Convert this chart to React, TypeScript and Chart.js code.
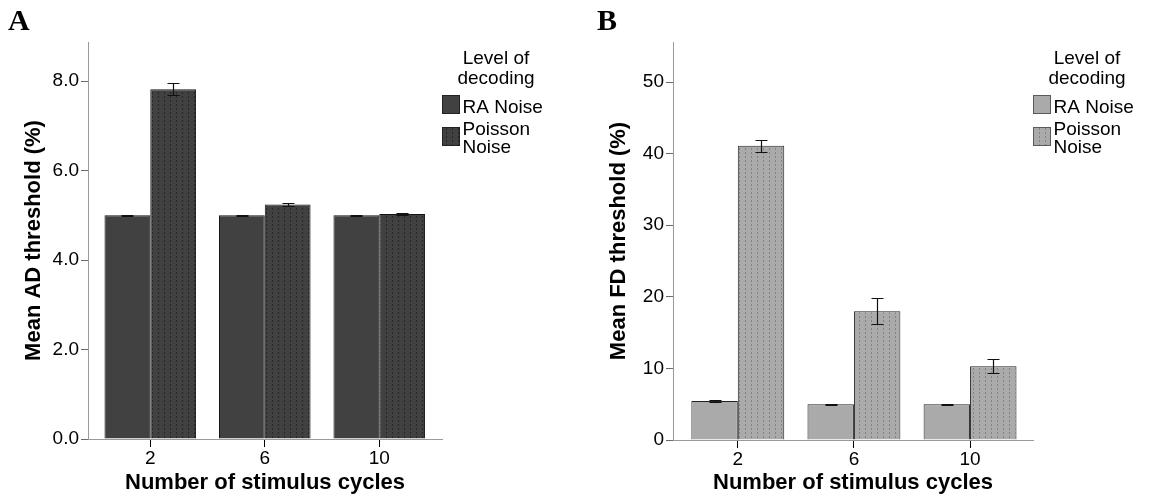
import React, { useEffect, useRef } from 'react';
import { Chart, registerables } from 'chart.js';
Chart.register(...registerables);

// ---------- data ----------
const categories = ['2', '6', '10'];
const seriesNames = ['RA Noise', 'Poisson Noise'];
const legendTitle = ['Level of', 'decoding'];
const xTitle = 'Number of stimulus cycles';

const adRA = [5.0, 5.0, 5.0];
const adRAErr = [0.012, 0.012, 0.012];
const adPoisson = [7.82, 5.24, 5.03];
const adPoissonErr = [0.13, 0.04, 0.025];
const adTicks = [0, 2, 4, 6, 8];

const fdRA = [5.45, 5.0, 5.0];
const fdRAErr = [0.08, 0.06, 0.06];
const fdPoisson = [41.1, 18.0, 10.3];
const fdPoissonErr = [0.85, 1.8, 1.0];
const fdTicks = [0, 10, 20, 30, 40, 50];

const FONT = "'Liberation Sans', Arial, Helvetica, sans-serif";

type Panel = {
  letter: string;
  yTitle: string;
  ra: number[];
  raErr: number[];
  poi: number[];
  poiErr: number[];
  yTicks: number[];
  yMax: number;
  decimals: number;
  bg: string;
  dot: string;
  border: string;
  swatchBorder: string;
  xMin: number;
  xMax: number;
  width: number;
  left: number;
  yAxisWidth: number;
  xAxisHeight: number;
  padRight: number;
  yTitlePad: number;
  letterX: number;
};

const panelA: Panel = {
  letter: 'A',
  yTitle: 'Mean AD threshold (%)',
  ra: adRA, raErr: adRAErr, poi: adPoisson, poiErr: adPoissonErr,
  yTicks: adTicks, yMax: 8.875, decimals: 1,
  bg: '#414141', dot: '#262626', border: '#151515', swatchBorder: '#222222',
  xMin: -0.544, xMax: 2.548,
  width: 575, left: 0,
  yAxisWidth: 88, xAxisHeight: 59, padRight: 133, yTitlePad: 21, letterX: 8,
};

const panelB: Panel = {
  letter: 'B',
  yTitle: 'Mean FD threshold (%)',
  ra: fdRA, raErr: fdRAErr, poi: fdPoisson, poiErr: fdPoissonErr,
  yTicks: fdTicks, yMax: 55.6, decimals: 0,
  bg: '#aaaaaa', dot: '#828282', border: '#222222', swatchBorder: '#5a5a5a',
  xMin: -0.558, xMax: 2.542,
  width: 574, left: 575,
  yAxisWidth: 98, xAxisHeight: 58, padRight: 116, yTitlePad: 31, letterX: 22,
};

function makePattern(bg: string, dot: string): CanvasPattern | string {
  const t = document.createElement('canvas');
  t.width = 6;
  t.height = 4;
  const c = t.getContext('2d');
  if (!c) return bg;
  c.fillStyle = bg;
  c.fillRect(0, 0, 6, 4);
  c.fillStyle = dot;
  c.fillRect(2, 0, 1, 2);
  const p = c.createPattern(t, 'repeat');
  return p || bg;
}

function PanelChart({ cfg }: { cfg: Panel }) {
  const ref = useRef<HTMLCanvasElement | null>(null);
  useEffect(() => {
    const canvas = ref.current;
    if (!canvas) return;
    const pattern = makePattern(cfg.bg, cfg.dot);
    const fills = [cfg.bg, pattern];

    const extras = {
      id: 'extras' + cfg.letter,
      afterDatasetsDraw(chart: any) {
        const ctx = chart.ctx;
        const yS = chart.scales.y;
        ctx.save();
        // error bars
        chart.data.datasets.forEach((ds: any, d: number) => {
          const meta = chart.getDatasetMeta(d);
          meta.data.forEach((bar: any, i: number) => {
            const v = ds.data[i].y;
            const e = ds.errors[i];
            const x = Math.round(bar.x) + 0.5;
            const y1 = Math.round(yS.getPixelForValue(v + e)) + 0.5;
            const y2 = Math.round(yS.getPixelForValue(v - e)) + 0.5;
            ctx.strokeStyle = '#111';
            ctx.lineWidth = 1.2;
            ctx.beginPath();
            ctx.moveTo(x, y1);
            ctx.lineTo(x, y2);
            ctx.moveTo(x - 6, y1);
            ctx.lineTo(x + 6, y1);
            ctx.moveTo(x - 6, y2);
            ctx.lineTo(x + 6, y2);
            ctx.stroke();
          });
        });
        // legend
        const r = chart.chartArea.right;
        ctx.fillStyle = '#000';
        ctx.font = `19px ${FONT}`;
        ctx.textBaseline = 'alphabetic';
        ctx.textAlign = 'center';
        ctx.fillText(legendTitle[0], r + 54, 64);
        ctx.fillText(legendTitle[1], r + 54, 84);
        ctx.textAlign = 'left';
        const sw = [
          { y: 95, lines: [seriesNames[0]], base: [112.5] },
          { y: 127, lines: ['Poisson', 'Noise'], base: [135, 152.5] },
        ];
        sw.forEach((s, k) => {
          ctx.fillStyle = fills[k] as any;
          ctx.fillRect(r + 0.5, s.y + 0.5, 17, 18);
          ctx.strokeStyle = cfg.swatchBorder;
          ctx.lineWidth = 1;
          ctx.strokeRect(r + 0.5, s.y + 0.5, 17, 18);
          ctx.fillStyle = '#000';
          s.lines.forEach((ln, j) => ctx.fillText(ln, r + 20.5, s.base[j]));
        });
        // panel letter
        ctx.font = `bold 30px 'Liberation Serif', 'Times New Roman', serif`;
        ctx.fillText(cfg.letter, cfg.letterX, 29.5);
        ctx.restore();
      },
    };

    const chart = new Chart(canvas, {
      type: 'bar',
      data: {
        datasets: [
          {
            label: seriesNames[0],
            data: cfg.ra.map((v, i) => ({ x: i, y: v })),
            errors: cfg.raErr,
            backgroundColor: fills[0],
            borderColor: cfg.border,
            borderWidth: 1,
            inflateAmount: 0,
          } as any,
          {
            label: seriesNames[1],
            data: cfg.poi.map((v, i) => ({ x: i, y: v })),
            errors: cfg.poiErr,
            backgroundColor: fills[1],
            borderColor: cfg.border,
            borderWidth: 1,
            inflateAmount: 0,
          } as any,
        ],
      },
      options: {
        responsive: false,
        animation: false,
        events: [],
        layout: { padding: { top: 42, right: cfg.padRight, bottom: 0, left: 0 } },
        plugins: { legend: { display: false }, tooltip: { enabled: false } },
        datasets: { bar: { categoryPercentage: 0.8, barPercentage: 1.0 } } as any,
        scales: {
          x: {
            type: 'linear',
            min: cfg.xMin,
            max: cfg.xMax,
            offset: false,
            afterBuildTicks: (s: any) => {
              s.ticks = categories.map((_, i) => ({ value: i }));
            },
            afterFit: (s: any) => {
              s.height = cfg.xAxisHeight;
            },
            grid: {
              display: true,
              drawOnChartArea: false,
              drawTicks: true,
              tickLength: 8,
              color: '#000',
              lineWidth: 1,
              offset: false,
            },
            border: { display: true, color: '#9a9a9a', width: 1 },
            ticks: {
              autoSkip: false,
              maxRotation: 0,
              minRotation: 0,
              padding: 0,
              color: '#000',
              font: { family: FONT, size: 19 },
              callback: (v: any) => categories[Math.round(Number(v))] ?? '',
            },
            title: {
              display: true,
              text: xTitle,
              color: '#000',
              font: { family: FONT, size: 22, weight: 'bold' },
              padding: { top: 0, bottom: 2 },
            },
          } as any,
          y: {
            min: 0,
            max: cfg.yMax,
            afterBuildTicks: (s: any) => {
              s.ticks = cfg.yTicks.map((v) => ({ value: v }));
            },
            afterFit: (s: any) => {
              s.width = cfg.yAxisWidth;
            },
            grid: {
              display: true,
              drawOnChartArea: false,
              drawTicks: true,
              tickLength: 7,
              color: '#6a6a6a',
            },
            border: { display: true, color: '#9a9a9a', width: 1 },
            ticks: {
              padding: 2,
              color: '#000',
              font: { family: FONT, size: 19 },
              callback: (v: any) => Number(v).toFixed(cfg.decimals),
            },
            title: {
              display: true,
              text: cfg.yTitle,
              color: '#000',
              font: { family: FONT, size: 22, weight: 'bold' },
              padding: { top: cfg.yTitlePad, bottom: 0 },
            },
          } as any,
        },
      },
      plugins: [extras],
    });
    return () => chart.destroy();
  }, [cfg]);

  return (
    <canvas
      ref={ref}
      width={cfg.width}
      height={498}
      style={{ position: 'absolute', left: cfg.left, top: 0, width: cfg.width, height: 498 }}
    />
  );
}

export default function App() {
  return (
    <div
      style={{
        position: 'fixed',
        left: 0,
        top: 0,
        width: 1149,
        height: 498,
        background: '#fff',
        overflow: 'hidden',
      }}
    >
      <PanelChart cfg={panelA} />
      <PanelChart cfg={panelB} />
    </div>
  );
}
